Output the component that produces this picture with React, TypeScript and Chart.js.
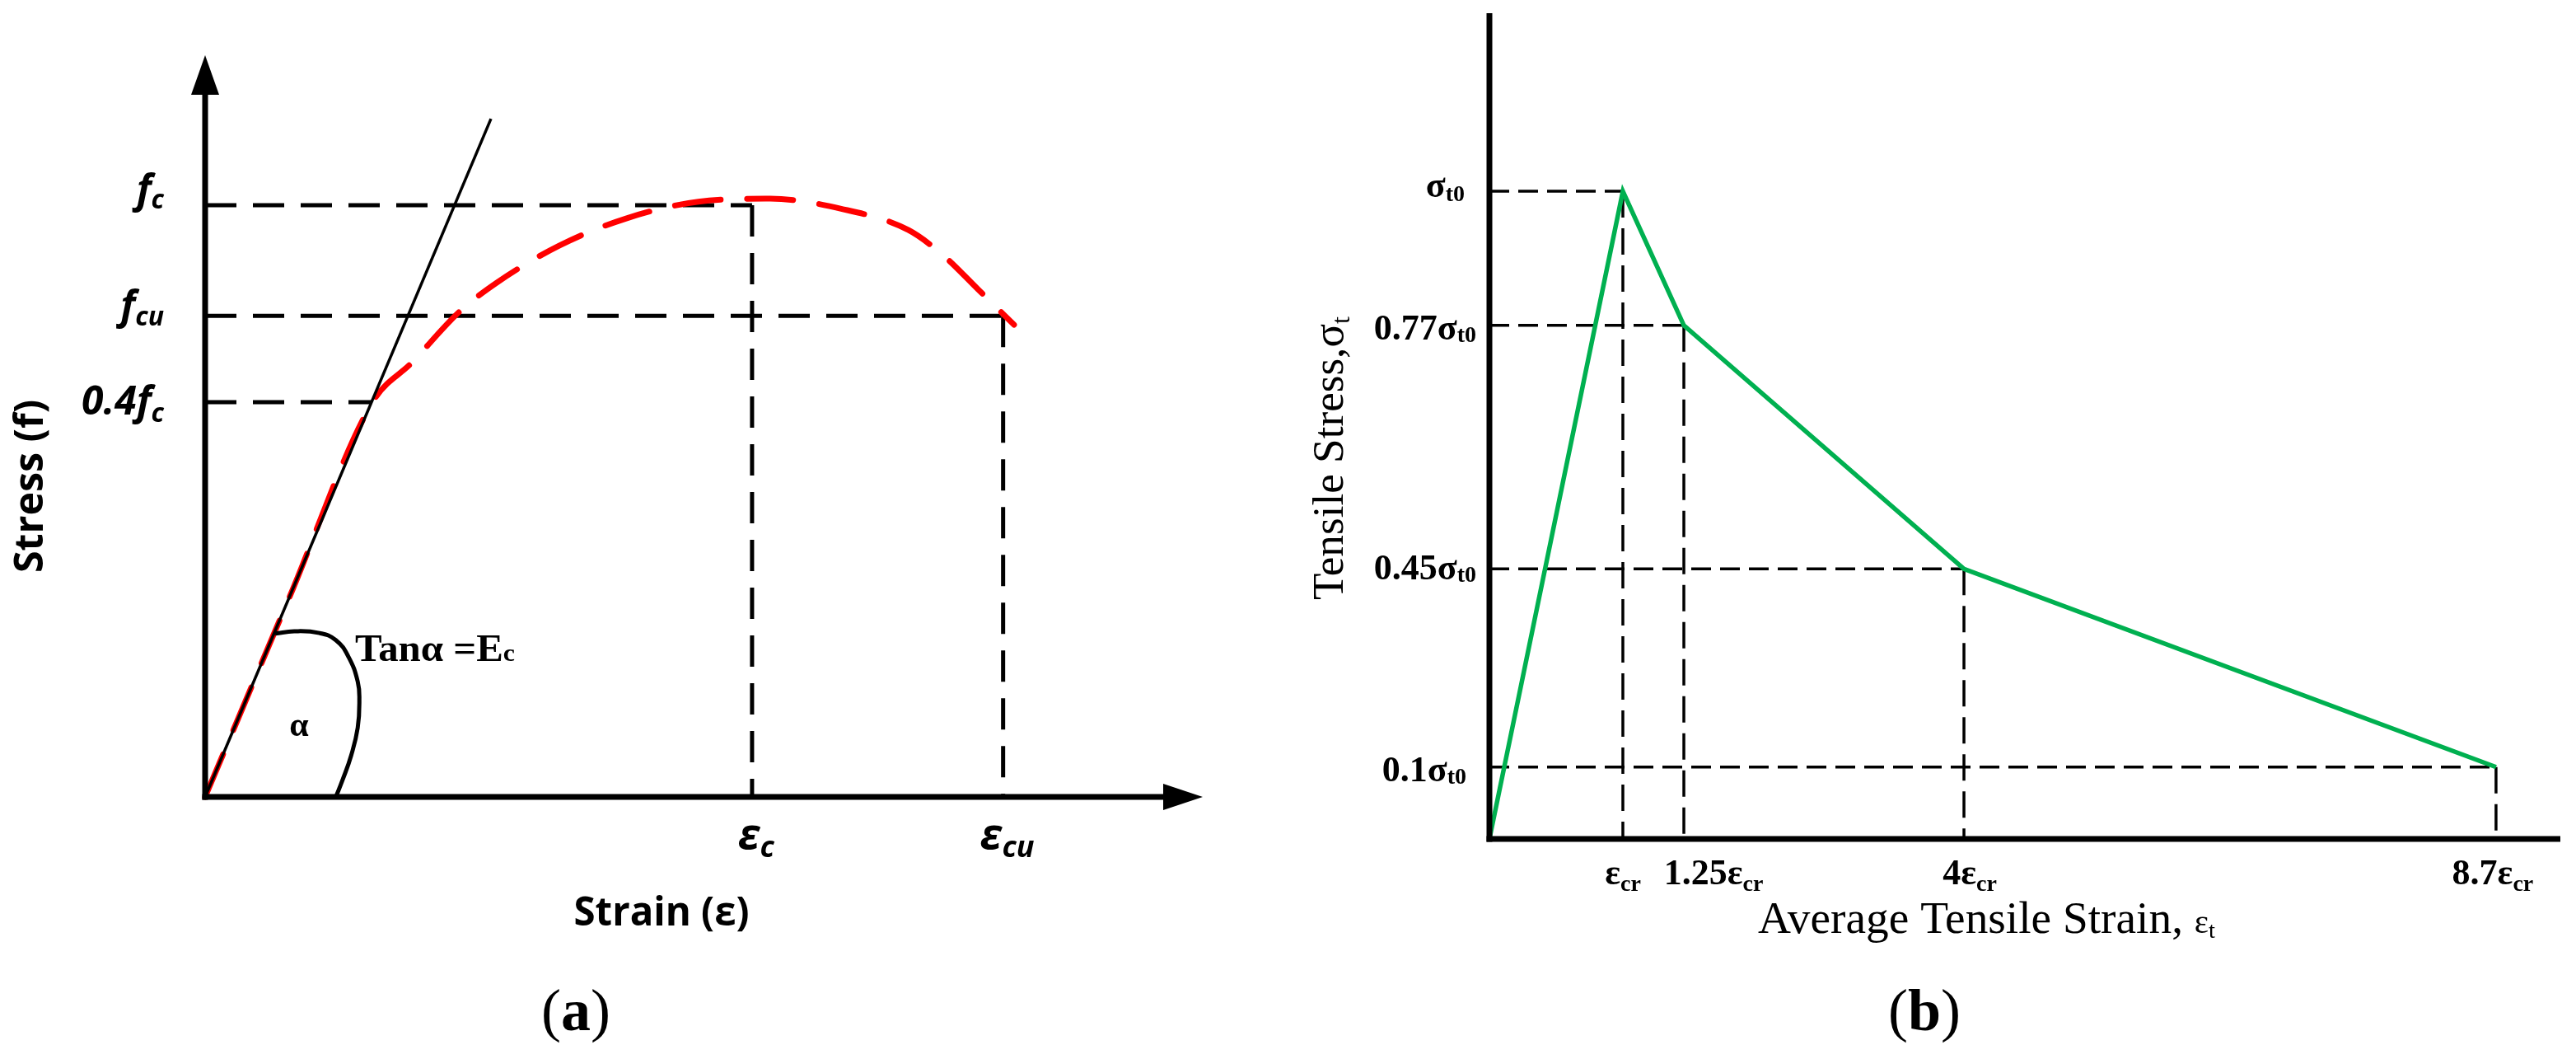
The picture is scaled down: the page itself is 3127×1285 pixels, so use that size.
import React, { useEffect, useRef } from "react";
import { Chart, registerables } from "chart.js";

Chart.register(...registerables);

// ---------------- Panel (a): compressive stress-strain ----------------
const stressTickMainA = ["f", "f", "0.4f"];
const stressTickSubA = ["c", "cu", "c"];
const stressTickPosA = [1, 0.813, 0.667];
const strainTickMainA = ["ε", "ε"];
const strainTickSubA = ["c", "cu"];
const strainTickPosA = [1, 1.459];
const curveStrainA = [0, 0.153, 0.306, 0.378, 0.465, 0.533, 0.648, 0.771, 0.902, 1.033, 1.163, 1.286, 1.351, 1.413, 1.479];
const curveStressA = [0, 0.335, 0.667, 0.734, 0.82, 0.869, 0.932, 0.978, 1.006, 1.011, 0.994, 0.958, 0.914, 0.858, 0.798];
const secantStrainA = [0, 0.5226];
const secantStressA = [0, 1.146];
const arcStrainA = [0.128, 0.163, 0.209, 0.239, 0.262, 0.279, 0.282, 0.279, 0.267, 0.251, 0.239];
const arcStressA = [0.276, 0.28, 0.277, 0.265, 0.237, 0.195, 0.163, 0.117, 0.07, 0.028, 0];
const X_MAX_A = 1.824;
const Y_MAX_A = 1.2535;

// ---------------- Panel (b): tensile stress-strain ----------------
const strainTickMainB = ["ε", "1.25ε", "4ε", "8.7ε"];
const strainTickSubB = ["cr", "cr", "cr", "cr"];
const strainPosB = [1, 1.457, 3.556, 7.543];
const stressTickMainB = ["σ", "0.77σ", "0.45σ", "0.1σ"];
const stressTickSubB = ["t0", "t0", "t0", "t0"];
const stressPosB = [1, 0.793, 0.417, 0.111];
const tensionStrainB = [0, 1, 1.457, 3.556, 7.543];
const tensionStressB = [0, 1, 0.793, 0.417, 0.111];
const X_MAX_B = 8.025;
const Y_MAX_B = 1.275;

type Run = { text: string; font: string; dy?: number };

function drawRuns(ctx: CanvasRenderingContext2D, runs: Run[], x: number, y: number, align: string = "left", fitW?: number) {
  ctx.save();
  let total = 0;
  const widths = runs.map((r) => {
    ctx.font = r.font;
    const w = ctx.measureText(r.text).width;
    total += w;
    return w;
  });
  const sx = fitW ? fitW / total : 1;
  const dw = total * sx;
  const start = align === "left" ? x : align === "center" ? x - dw / 2 : x - dw;
  ctx.translate(start, y);
  ctx.scale(sx, 1);
  ctx.textAlign = "left";
  ctx.textBaseline = "alphabetic";
  ctx.fillStyle = "#000";
  let cx = 0;
  runs.forEach((r, i) => {
    ctx.font = r.font;
    ctx.fillText(r.text, cx, r.dy || 0);
    cx += widths[i];
  });
  ctx.restore();
}

function seg(ctx: CanvasRenderingContext2D, x1: number, y1: number, x2: number, y2: number) {
  ctx.beginPath();
  ctx.moveTo(x1, y1);
  ctx.lineTo(x2, y2);
  ctx.stroke();
}

const OS_BI = (s: number) => `italic bold ${s}px 'Open Sans', 'DejaVu Sans', sans-serif`;
const OS_B = (s: number) => `bold ${s}px 'Open Sans', 'DejaVu Sans', sans-serif`;
const SERIF_B = (s: number) => `bold ${s}px 'Liberation Serif', 'Times New Roman', serif`;
const SERIF = (s: number) => `${s}px 'Liberation Serif', 'Times New Roman', serif`;

const panelAPlugin = {
  id: "panelA",
  beforeDatasetsDraw(chart: any) {
    const ctx: CanvasRenderingContext2D = chart.ctx;
    const X = (v: number) => chart.scales.x.getPixelForValue(v);
    const Y = (v: number) => chart.scales.y.getPixelForValue(v);
    ctx.save();
    ctx.strokeStyle = "#000";
    ctx.lineWidth = 5;
    ctx.setLineDash([38, 20]);
    seg(ctx, X(0), Y(stressTickPosA[0]), X(strainTickPosA[0]), Y(stressTickPosA[0]));
    seg(ctx, X(0), Y(stressTickPosA[1]), X(strainTickPosA[1]), Y(stressTickPosA[1]));
    const x04 = (stressTickPosA[2] * secantStrainA[1]) / secantStressA[1];
    seg(ctx, X(0), Y(stressTickPosA[2]), X(x04), Y(stressTickPosA[2]));
    seg(ctx, X(strainTickPosA[0]), Y(stressTickPosA[0]), X(strainTickPosA[0]), Y(0));
    seg(ctx, X(strainTickPosA[1]), Y(stressTickPosA[1]), X(strainTickPosA[1]), Y(0));
    ctx.restore();
  },
  afterDatasetsDraw(chart: any) {
    const ctx: CanvasRenderingContext2D = chart.ctx;
    const X = (v: number) => chart.scales.x.getPixelForValue(v);
    const Y = (v: number) => chart.scales.y.getPixelForValue(v);
    const x0 = X(0), y0 = Y(0), xT = X(X_MAX_A), yT = Y(Y_MAX_A);
    ctx.save();
    ctx.strokeStyle = "#000";
    ctx.fillStyle = "#000";
    ctx.lineWidth = 7;
    ctx.setLineDash([]);
    seg(ctx, x0, y0 + 3.5, x0, yT + 46);
    seg(ctx, x0 - 3.5, y0, xT - 46, y0);
    ctx.beginPath();
    ctx.moveTo(x0, yT);
    ctx.lineTo(x0 - 17, yT + 48);
    ctx.lineTo(x0 + 17, yT + 48);
    ctx.closePath();
    ctx.fill();
    ctx.beginPath();
    ctx.moveTo(xT, y0);
    ctx.lineTo(xT - 48, y0 - 16);
    ctx.lineTo(xT - 48, y0 + 16);
    ctx.closePath();
    ctx.fill();
    ctx.restore();

    const mainOff = [-3, 4, 15];
    const subOff = [4, 12, 24];
    stressTickPosA.forEach((p, i) => {
      drawRuns(ctx, [
        { text: stressTickMainA[i], font: OS_BI(48), dy: mainOff[i] },
        { text: stressTickSubA[i], font: OS_BI(32), dy: subOff[i] },
      ], x0 - 50, Y(p), "right");
    });
    strainTickPosA.forEach((p, i) => {
      drawRuns(ctx, [
        { text: strainTickMainA[i], font: OS_BI(52), dy: 0 },
        { text: strainTickSubA[i], font: OS_BI(36), dy: 10 },
      ], X(p) + 5, y0 + 63, "center");
    });
    // axis titles
    ctx.save();
    ctx.translate(x0 - 197, y0 - 377);
    ctx.rotate(-Math.PI / 2);
    drawRuns(ctx, [{ text: "Stress (f)", font: OS_B(49) }], 0, 0, "center", 210);
    ctx.restore();
    drawRuns(ctx, [{ text: "Strain (ε)", font: OS_B(49) }], x0 + 554, y0 + 156, "center", 213);
    // annotations
    drawRuns(ctx, [
      { text: "Tanα =E", font: SERIF_B(46) },
      { text: "c", font: SERIF_B(30) },
    ], x0 + 182, y0 - 165, "left", 194);
    drawRuns(ctx, [{ text: "α", font: SERIF_B(42) }], x0 + 114, y0 - 74, "center");
    drawRuns(ctx, [
      { text: "(", font: SERIF(72) },
      { text: "a", font: SERIF_B(72) },
      { text: ")", font: SERIF(72) },
    ], x0 + 450, y0 + 283, "center");
  },
};

const panelBPlugin = {
  id: "panelB",
  beforeDatasetsDraw(chart: any) {
    const ctx: CanvasRenderingContext2D = chart.ctx;
    const X = (v: number) => chart.scales.x.getPixelForValue(v);
    const Y = (v: number) => chart.scales.y.getPixelForValue(v);
    ctx.save();
    ctx.strokeStyle = "#000";
    ctx.lineWidth = 3.5;
    stressPosB.forEach((p, i) => {
      ctx.setLineDash([24, 11]);
      seg(ctx, X(0), Y(p), X(strainPosB[i]), Y(p));
      ctx.setLineDash([32, 13]);
      seg(ctx, X(strainPosB[i]), Y(p), X(strainPosB[i]), Y(0));
    });
    ctx.restore();
  },
  afterDatasetsDraw(chart: any) {
    const ctx: CanvasRenderingContext2D = chart.ctx;
    const X = (v: number) => chart.scales.x.getPixelForValue(v);
    const Y = (v: number) => chart.scales.y.getPixelForValue(v);
    const x0 = X(0), y0 = Y(0), xT = X(X_MAX_B), yT = Y(Y_MAX_B);
    ctx.save();
    ctx.strokeStyle = "#000";
    ctx.lineWidth = 7;
    ctx.setLineDash([]);
    seg(ctx, x0, yT, x0, y0 + 3.5);
    seg(ctx, x0 - 3.5, y0, xT, y0);
    ctx.restore();

    const rightGap = [30, 16, 16, 28];
    const mainOff = [7, 17, 13, 17];
    const subOff = [12, 20, 16, 20];
    stressPosB.forEach((p, i) => {
      drawRuns(ctx, [
        { text: stressTickMainB[i], font: SERIF_B(44), dy: mainOff[i] },
        { text: stressTickSubB[i], font: SERIF_B(28), dy: subOff[i] },
      ], x0 - rightGap[i], Y(p), "right");
    });
    const cOff = [0, 36, 7, -4];
    strainPosB.forEach((p, i) => {
      drawRuns(ctx, [
        { text: strainTickMainB[i], font: SERIF_B(44), dy: 0 },
        { text: strainTickSubB[i], font: SERIF_B(28), dy: 8 },
      ], X(p) + cOff[i], y0 + 55, "center");
    });
    drawRuns(ctx, [
      { text: "Average Tensile Strain, ", font: SERIF(54) },
      { text: "ε", font: SERIF(40) },
      { text: "t", font: SERIF(28), dy: 6 },
    ], x0 + 326, y0 + 114, "left", 555);
    ctx.save();
    ctx.translate(x0 - 178, y0 - 462);
    ctx.rotate(-Math.PI / 2);
    drawRuns(ctx, [
      { text: "Tensile Stress,", font: SERIF(53) },
      { text: "σ", font: SERIF(53) },
      { text: "t", font: SERIF(32), dy: 8 },
    ], 0, 0, "center", 344);
    ctx.restore();
    drawRuns(ctx, [
      { text: "(", font: SERIF(72) },
      { text: "b", font: SERIF_B(72) },
      { text: ")", font: SERIF(72) },
    ], x0 + 528, y0 + 232, "center");
  },
};

function pts(xs: number[], ys: number[]) {
  return xs.map((x, i) => ({ x, y: ys[i] }));
}

function baseOptions(xMax: number, yMax: number, padding: any) {
  return {
    responsive: false,
    animation: false as const,
    devicePixelRatio: 1,
    layout: { padding },
    plugins: { legend: { display: false }, tooltip: { enabled: false }, title: { display: false } },
    elements: { point: { radius: 0 } },
    scales: {
      x: { type: "linear" as const, min: 0, max: xMax, display: false },
      y: { type: "linear" as const, min: 0, max: yMax, display: false },
    },
  };
}

export default function App() {
  const refA = useRef<HTMLCanvasElement>(null);
  const refB = useRef<HTMLCanvasElement>(null);

  useEffect(() => {
    const chartA = new Chart(refA.current as HTMLCanvasElement, {
      type: "scatter",
      data: {
        datasets: [
          {
            data: pts(arcStrainA, arcStressA),
            showLine: true,
            borderColor: "#000",
            borderWidth: 5,
            tension: 0.45,
            pointRadius: 0,
            clip: false,
            order: 0,
          } as any,
          {
            data: pts(secantStrainA, secantStressA),
            showLine: true,
            borderColor: "#000",
            borderWidth: 3.5,
            pointRadius: 0,
            clip: false,
            order: 1,
          } as any,
          {
            data: pts(curveStrainA, curveStressA),
            showLine: true,
            borderColor: "#FF0000",
            borderWidth: 7,
            borderDash: [56, 32],
            borderCapStyle: "round",
            cubicInterpolationMode: "monotone",
            pointRadius: 0,
            clip: false,
            order: 2,
          } as any,
        ],
      },
      options: baseOptions(X_MAX_A, Y_MAX_A, { left: 249, right: 100, top: 67, bottom: 318 }) as any,
      plugins: [panelAPlugin],
    });

    const chartB = new Chart(refB.current as HTMLCanvasElement, {
      type: "scatter",
      data: {
        datasets: [
          {
            data: pts(tensionStrainB, tensionStressB),
            showLine: true,
            borderColor: "#00B050",
            borderWidth: 5.5,
            borderJoinStyle: "miter",
            tension: 0,
            pointRadius: 0,
            clip: false,
          } as any,
        ],
      },
      options: baseOptions(X_MAX_B, Y_MAX_B, { left: 248, right: 19, top: 16, bottom: 267 }) as any,
      plugins: [panelBPlugin],
    });

    return () => {
      chartA.destroy();
      chartB.destroy();
    };
  }, []);

  return (
    <div style={{ position: "absolute", left: 0, top: 0, width: 3127, height: 1285, background: "#fff", overflow: "hidden" }}>
      <canvas ref={refA} width={1560} height={1285} style={{ position: "absolute", left: 0, top: 0, width: 1560, height: 1285 }} />
      <canvas ref={refB} width={1567} height={1285} style={{ position: "absolute", left: 1560, top: 0, width: 1567, height: 1285 }} />
    </div>
  );
}
